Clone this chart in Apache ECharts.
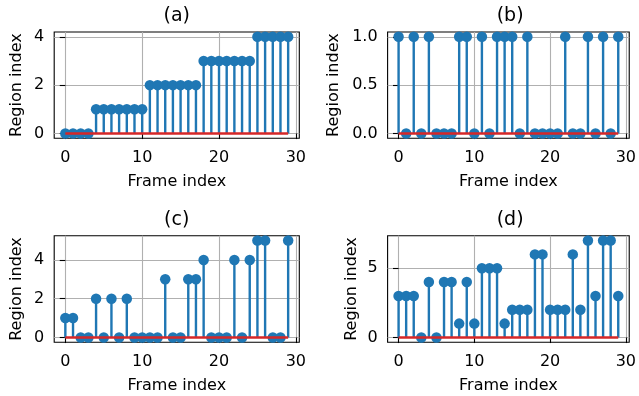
<!DOCTYPE html>
<html>
<head>
<meta charset="utf-8">
<script src="https://cdn.jsdelivr.net/npm/echarts@6/dist/echarts.min.js"></script>
<style>
html,body{margin:0;padding:0;background:#fff;}
#chart{width:639px;height:396px;}
</style>
</head>
<body>
<div id="chart"></div>
<script>
// ---- data ----
const frames = Array.from({length: 30}, (_, i) => i);
const valuesA = [0,0,0,0,1,1,1,1,1,1,1,2,2,2,2,2,2,2,3,3,3,3,3,3,3,4,4,4,4,4];
const valuesB = [1,0,1,0,1,0,0,0,1,1,0,1,0,1,1,1,0,1,0,0,0,0,1,0,0,1,0,1,0,1];
const valuesC = [1,1,0,0,2,0,2,0,2,0,0,0,0,3,0,0,3,3,4,0,0,0,4,0,4,5,5,0,0,5];
const valuesD = [3,3,3,0,4,0,4,4,1,4,1,5,5,5,1,2,2,2,6,6,2,2,2,6,2,7,3,7,7,3];
const titles = ['(a)', '(b)', '(c)', '(d)'];
const xTicks = [0, 10, 20, 30];
const yTicksA = [0, 2, 4];
const yTicksB = [0, 0.5, 1.0];
const yTicksC = [0, 2, 4];
const yTicksD = [0, 5];
const xLabel = 'Frame index';
const yLabel = 'Region index';

// ---- layout ----
const FONT = 'DejaVu Sans';
const panels = [
  {vals: valuesA, yTicks: yTicksA, dec: 0, left: 54.2, top: 32.0, h: 106.3, nameGap: 29},
  {vals: valuesB, yTicks: yTicksB, dec: 1, left: 387.6, top: 32.0, h: 106.3, nameGap: 46},
  {vals: valuesC, yTicks: yTicksC, dec: 0, left: 54.2, top: 235.7, h: 106.6, nameGap: 29},
  {vals: valuesD, yTicks: yTicksD, dec: 0, left: 387.6, top: 235.7, h: 106.6, nameGap: 28}
];
const W = 245.1;

const grid = [], xAxis = [], yAxis = [], series = [], title = [];
panels.forEach((p, i) => {
  const maxV = Math.max(...p.vals), minV = Math.min(...p.vals);
  const mY = (maxV - minV) * 0.05;
  grid.push({left: p.left, top: p.top, width: W, height: p.h, show: true,
    borderColor: '#000', borderWidth: 1.1, backgroundColor: 'transparent', containLabel: false});
  title.push({text: titles[i], left: p.left + W / 2, top: p.top - 25, textAlign: 'center', padding: 0,
    textStyle: {fontFamily: FONT, fontSize: 19, fontWeight: 'normal', color: '#000'}});
  xAxis.push({type: 'value', gridIndex: i, min: -1.45, max: 30.45,
    name: xLabel, nameLocation: 'middle', nameGap: 36,
    nameTextStyle: {fontFamily: FONT, fontSize: 16, color: '#000'},
    axisLine: {show: false},
    axisTick: {show: true, inside: false, length: 5.6, lineStyle: {color: '#000', width: 1.1}, customValues: xTicks},
    axisLabel: {show: true, margin: 12, fontFamily: FONT, fontSize: 16, color: '#000', customValues: xTicks},
    splitLine: {show: true, lineStyle: {color: '#b0b0b0', width: 1.1}}
  });
  yAxis.push({type: 'value', gridIndex: i, min: minV - mY, max: maxV + mY,
    name: yLabel, nameLocation: 'middle', nameGap: p.nameGap,
    nameTextStyle: {fontFamily: FONT, fontSize: 16, color: '#000'},
    axisLine: {show: false},
    axisTick: {show: true, inside: false, length: 5.6, lineStyle: {color: '#000', width: 1.1}, customValues: p.yTicks},
    axisLabel: {show: true, margin: 10, fontFamily: FONT, fontSize: 16, color: '#000', customValues: p.yTicks,
      formatter: v => Number(v).toFixed(p.dec)},
    splitLine: {show: true, lineStyle: {color: '#b0b0b0', width: 1.1}}
  });
  const data = frames.map((f, k) => [f, p.vals[k]]);
  series.push({type: 'custom', xAxisIndex: i, yAxisIndex: i, z: 2, data: data, clip: true,
    renderItem: (params, api) => {
      const x = api.value(0), y = api.value(1);
      const p0 = api.coord([x, 0]), p1 = api.coord([x, y]);
      return {type: 'line', shape: {x1: p0[0], y1: p0[1], x2: p1[0], y2: p1[1]},
        style: {stroke: '#1f77b4', lineWidth: 2.4}};
    }
  });
  series.push({type: 'scatter', xAxisIndex: i, yAxisIndex: i, z: 3, data: data,
    symbol: 'circle', symbolSize: 10.5, itemStyle: {color: '#1f77b4', opacity: 1}});
  series.push({type: 'line', xAxisIndex: i, yAxisIndex: i, z: 4,
    data: [[frames[0], 0], [frames[frames.length - 1], 0]], symbol: 'none',
    lineStyle: {color: '#d62728', width: 2.4}});
});

const chart = echarts.init(document.getElementById('chart'), null, {renderer: 'canvas'});
chart.setOption({
  animation: false,
  backgroundColor: '#fff',
  textStyle: {fontFamily: FONT},
  title: title, grid: grid, xAxis: xAxis, yAxis: yAxis, series: series
});
</script>
</body>
</html>
